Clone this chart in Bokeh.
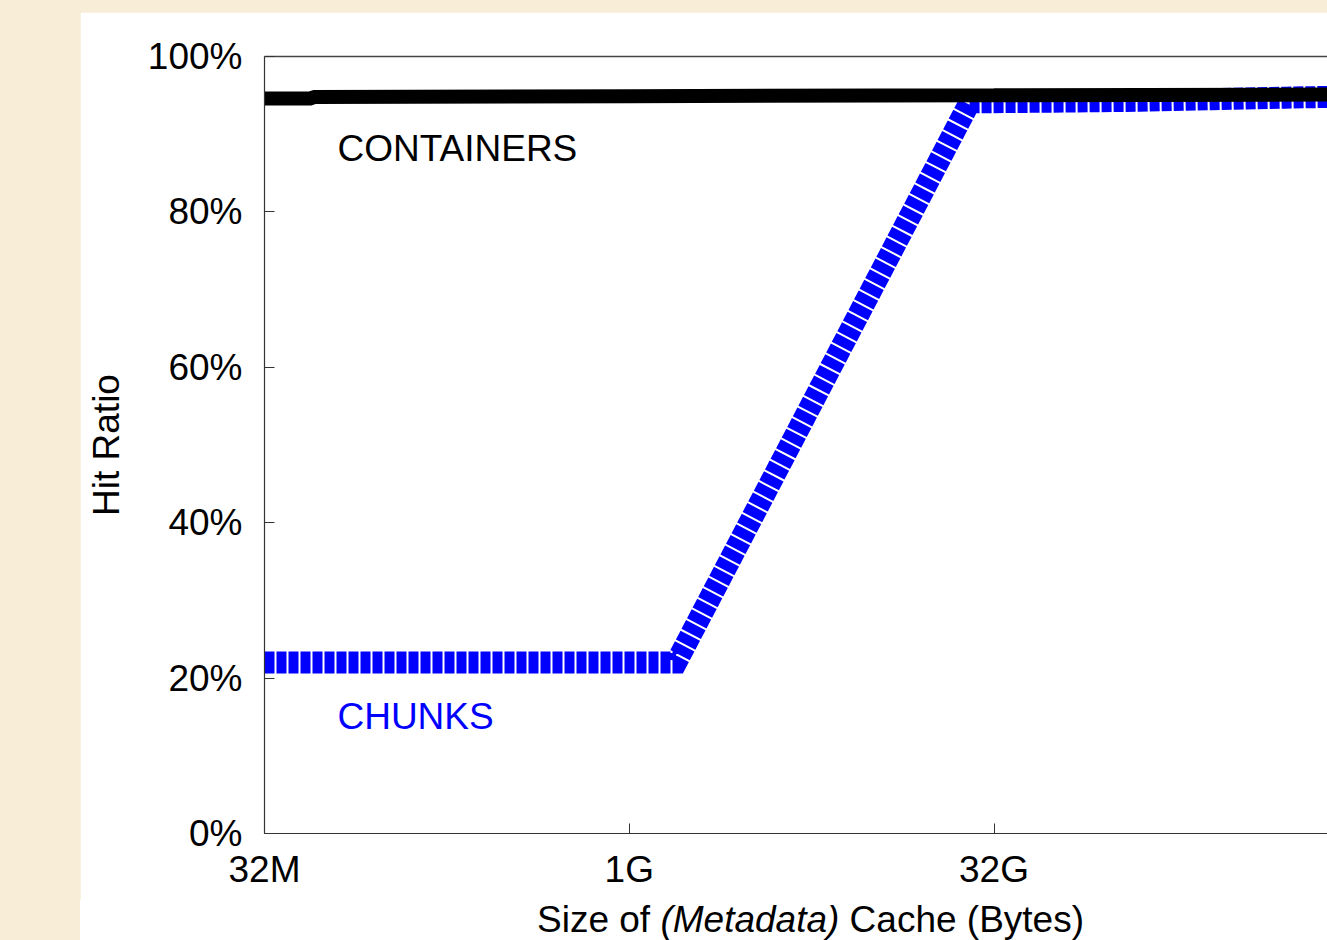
from bokeh.plotting import figure
from bokeh.models import Range1d, FixedTicker, LinearAxis, Label, Div
from bokeh.layouts import row, column
from bokeh.embed import file_html
from bokeh.resources import INLINE

# Cache sizes (MB) and hit ratios (%)
containers_size_mb = [32, 50, 51, 1024, 32768, 786432]
containers_hit = [94.6, 94.6, 94.8, 94.9, 95.0, 95.1]

chunks_size_mb = [32, 64, 128, 256, 512, 1024, 1600, 26000, 65536, 131072, 262144, 524288, 786432]
chunks_hit = [22, 22, 22, 22, 22, 22, 22, 94.1, 94.2, 94.3, 94.5, 94.7, 94.8]

x_tick_mb = [32, 1024, 32768]
x_tick_labels = ["32M", "1G", "32G"]
y_ticks = [0, 20, 40, 60, 80, 100]
y_tick_labels = ["0%", "20%", "40%", "60%", "80%", "100%"]

MB = 2 ** 20
FONT = "Liberation Sans"
FSIZE = "37px"
BEIGE = "#F8EDD6"

def to_bytes(values):
    return [v * MB for v in values]

x_start = 32 * MB
x_end = x_start * 2 ** (1063 / 72.95)

p = figure(width=1247, height=888, x_axis_type="log",
           x_range=Range1d(x_start, x_end), y_range=Range1d(0, 100),
           output_backend="svg", toolbar_location=None,
           min_border_left=184, min_border_right=0,
           min_border_top=44, min_border_bottom=67,
           background_fill_color="white", border_fill_color="white",
           outline_line_color=None, margin=0)
p.grid.visible = False

# chunk hit ratio: thick dashed blue
p.line(to_bytes(chunks_size_mb), chunks_hit, line_color="#0000FF",
       line_width=22, line_dash="10 2", line_cap="butt", line_join="miter")
# container hit ratio: thick black
p.line(to_bytes(containers_size_mb), containers_hit, line_color="black",
       line_width=14, line_cap="butt")

xt = to_bytes(x_tick_mb)
xaxis = p.xaxis[0]
xaxis.ticker = FixedTicker(ticks=xt, minor_ticks=[])
xaxis.major_label_overrides = {t: lab for t, lab in zip(xt, x_tick_labels)}

yaxis = p.yaxis[0]
yaxis.ticker = FixedTicker(ticks=y_ticks, minor_ticks=[])
yaxis.major_label_overrides = {t: lab for t, lab in zip(y_ticks, y_tick_labels)}
yaxis.axis_label = "Hit Ratio"
yaxis.axis_label_text_font = FONT
yaxis.axis_label_text_font_size = FSIZE
yaxis.axis_label_text_font_style = "normal"
yaxis.axis_label_text_color = "black"
yaxis.axis_label_standoff = 18

for ax in (xaxis, yaxis):
    ax.axis_line_color = "#333333"
    ax.axis_line_width = 1.2
    ax.major_tick_in = 10
    ax.major_tick_out = 0
    ax.major_tick_line_color = "#333333"
    ax.minor_tick_line_color = None
    ax.major_label_text_font = FONT
    ax.major_label_text_font_size = FSIZE
    ax.major_label_text_color = "black"
xaxis.major_label_standoff = 15
yaxis.major_label_standoff = 22

# top border line
top = LinearAxis(ticker=FixedTicker(ticks=[]), axis_line_color="#444444",
                 axis_line_width=1.5, major_tick_line_color=None,
                 minor_tick_line_color=None)
p.add_layout(top, "above")

# series labels
p.add_layout(Label(x=64 * MB, y=88.2, text="CONTAINERS", text_font=FONT,
                   text_font_size=FSIZE, text_color="black",
                   text_baseline="middle"))
p.add_layout(Label(x=64 * MB, y=15, text="CHUNKS", text_font=FONT,
                   text_font_size=FSIZE, text_color="#0000FF",
                   text_baseline="middle"))

# x axis title, with the italic word
x_title = Div(
    text=('<div style="font-family:\'Liberation Sans\';font-size:37px;'
          'line-height:37px;color:black;white-space:nowrap;'
          'padding:1px 0 0 457px;">'
          'Size of <i>(Metadata)</i> Cache (Bytes)</div>'),
    width=1247, height=40, margin=0,
    styles={"background-color": "white", "overflow": "hidden"})

left_pad = Div(width=80, height=940, margin=0,
               styles={"background-color": BEIGE})
top_pad = Div(width=1247, height=12, margin=0,
              styles={"background-color": BEIGE})
page = row(left_pad, column(top_pad, p, x_title, spacing=0), spacing=0,
           styles={"background-color": BEIGE})

open("out.html", "w").write(file_html(page, INLINE))
